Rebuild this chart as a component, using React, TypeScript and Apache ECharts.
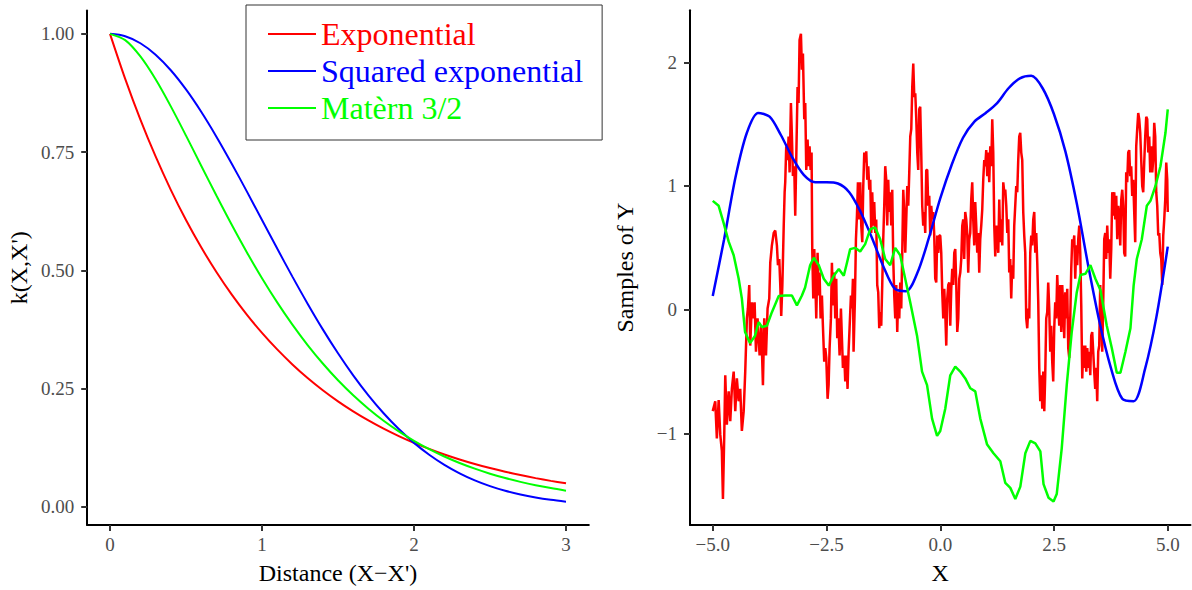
import React, { useEffect, useRef } from "react";
import * as echarts from "echarts";

// ---------- Left panel: kernel functions ----------
const distance = [0, 0.1, 0.2, 0.3, 0.4, 0.5, 0.6, 0.7, 0.8, 0.9, 1.0, 1.1, 1.2, 1.3, 1.4, 1.5, 1.6, 1.7, 1.8, 1.9, 2.0, 2.1, 2.2, 2.3, 2.4, 2.5, 2.6, 2.7, 2.8, 2.9, 3.0];
const kExponential = [1.0, 0.9048, 0.8187, 0.7408, 0.6703, 0.6065, 0.5488, 0.4966, 0.4493, 0.4066, 0.3679, 0.3329, 0.3012, 0.2725, 0.2466, 0.2231, 0.2019, 0.1827, 0.1653, 0.1496, 0.1353, 0.1225, 0.1108, 0.1003, 0.0907, 0.0821, 0.0743, 0.0672, 0.0608, 0.055, 0.0498];
const kSquaredExp = [1.0, 0.995, 0.9802, 0.956, 0.9231, 0.8825, 0.8353, 0.7827, 0.7261, 0.667, 0.6065, 0.5461, 0.4868, 0.4296, 0.3753, 0.3247, 0.278, 0.2357, 0.1979, 0.1645, 0.1353, 0.1103, 0.0889, 0.071, 0.0561, 0.0439, 0.034, 0.0261, 0.0198, 0.0149, 0.0111];
const kMatern = [1.0, 0.9867, 0.9522, 0.9039, 0.8467, 0.7849, 0.7213, 0.6582, 0.5969, 0.5384, 0.4834, 0.4323, 0.3852, 0.3421, 0.3031, 0.2677, 0.236, 0.2076, 0.1822, 0.1598, 0.1397, 0.1221, 0.1065, 0.0928, 0.0808, 0.0702, 0.061, 0.0529, 0.0458, 0.0397, 0.0343];

const seriesNames = ["Exponential", "Squared exponential", "Matèrn 3/2"];
const seriesColors = ["#FF0000", "#0000FF", "#00FF00"];

const leftXTicks = [0, 1, 2, 3];
const leftYTicks = [0, 0.25, 0.5, 0.75, 1.0];
const rightXTicks = [-5, -2.5, 0, 2.5, 5];
const rightYTicks = [-1, 0, 1, 2];

// ---------- Right panel: samples ----------
const sampleExp: [number, number][] = [
  [-5.0, -0.82], [-4.945, -0.74], [-4.91, -1.04], [-4.87, -0.73], [-4.835, -1.01], [-4.8, -1.14], [-4.776, -1.53], [-4.747, -1.01], [-4.725, -0.53], [-4.69, -0.93],
  [-4.65, -0.66], [-4.615, -0.9], [-4.58, -0.64], [-4.54, -0.5], [-4.505, -0.82], [-4.47, -0.555], [-4.43, -0.74], [-4.396, -0.64], [-4.36, -0.98], [-4.32, -0.82],
  [-4.286, -0.5], [-4.25, -0.07], [-4.227, 0.01], [-4.198, 0.2], [-4.176, -0.29], [-4.14, 0.06], [-4.1, -0.07], [-4.08, 0.06], [-4.05, -0.34], [-4.015, -0.07],
  [-3.97, -0.37], [-3.934, -0.13], [-3.897, -0.61], [-3.868, -0.07], [-3.83, -0.37], [-3.795, 0.01], [-3.758, 0.09], [-3.736, 0.38], [-3.7, 0.52], [-3.66, 0.62],
  [-3.626, 0.64], [-3.59, 0.52], [-3.567, 0.36], [-3.538, 0.41], [-3.516, 0.2], [-3.495, -0.05], [-3.47, 0.2], [-3.44, 0.68], [-3.42, 0.95], [-3.407, 1.03],
  [-3.385, 1.32], [-3.355, 1.21], [-3.333, 1.4], [-3.311, 1.11], [-3.282, 1.67], [-3.26, 1.4], [-3.238, 1.08], [-3.209, 1.16], [-3.187, 0.76], [-3.165, 1.21],
  [-3.136, 1.8], [-3.114, 1.67], [-3.092, 2.18], [-3.062, 2.23], [-3.04, 1.94], [-3.018, 2.07], [-2.989, 1.54], [-2.967, 1.67], [-2.945, 1.13], [-2.916, 1.375],
  [-2.894, 1.16], [-2.872, 1.32], [-2.85, 1.13], [-2.828, 1.27], [-2.813, 0.49], [-2.791, 0.09], [-2.769, 0.49], [-2.747, 0.25], [-2.725, -0.07], [-2.696, 0.46],
  [-2.674, 0.115], [-2.652, 0.3], [-2.63, -0.07], [-2.601, 0.115], [-2.579, -0.13], [-2.55, -0.42], [-2.527, -0.31], [-2.505, -0.39], [-2.476, -0.72], [-2.454, -0.61],
  [-2.432, -0.31], [-2.403, -0.07], [-2.381, 0.38], [-2.359, 0.035], [-2.33, 0.3], [-2.308, -0.07], [-2.286, 0.25], [-2.264, -0.23], [-2.242, -0.07], [-2.212, -0.37],
  [-2.183, 0.01], [-2.161, -0.23], [-2.139, -0.47], [-2.11, -0.37], [-2.088, -0.58], [-2.066, -0.37], [-2.037, -0.64], [-2.015, -0.34], [-1.993, -0.15], [-1.963, 0.115],
  [-1.941, 0.01], [-1.919, 0.25], [-1.905, -0.34], [-1.875, 0.09], [-1.853, 0.57], [-1.831, 0.76], [-1.809, 1.03], [-1.787, 0.73],
  [-1.758, 1.03], [-1.736, 0.68], [-1.714, 0.545], [-1.692, 1.0], [-1.67, 1.27], [-1.648, 1.19], [-1.626, 1.28], [-1.604, 1.05], [-1.582, 1.16], [-1.56, 0.97],
  [-1.538, 1.05], [-1.516, 0.62], [-1.495, 0.95], [-1.473, 0.68], [-1.451, 0.87], [-1.429, 0.62], [-1.407, 0.73], [-1.385, 0.2], [-1.363, 0.14], [-1.341, -0.15],
  [-1.319, -0.02], [-1.297, -0.13], [-1.275, 0.2], [-1.253, 0.57], [-1.231, 0.84], [-1.209, 1.16], [-1.187, 1.05], [-1.165, 0.68], [-1.143, 1.05], [-1.121, 0.79],
  [-1.099, 0.95], [-1.077, 0.68], [-1.055, 0.97], [-1.033, 0.41], [-1.011, 0.115], [-0.989, -0.07], [-0.967, 0.2], [-0.945, -0.18], [-0.923, 0.14], [-0.901, -0.07],
  [-0.879, 0.22], [-0.857, 0.01], [-0.835, 0.46], [-0.813, 0.97], [-0.791, 0.79], [-0.769, 0.46], [-0.747, 0.73], [-0.725, 1.0], [-0.703, 0.84], [-0.681, 1.11],
  [-0.659, 1.4], [-0.637, 1.46], [-0.615, 1.8], [-0.593, 1.99], [-0.571, 1.72], [-0.549, 1.75], [-0.527, 1.54], [-0.505, 1.27], [-0.484, 1.13], [-0.462, 1.62],
  [-0.44, 1.64], [-0.418, 1.27], [-0.396, 0.84], [-0.374, 0.68], [-0.352, 0.79], [-0.33, 0.62], [-0.308, 1.13], [-0.286, 1.13], [-0.264, 0.84], [-0.242, 0.92],
  [-0.22, 0.6], [-0.198, 0.84], [-0.176, 0.73], [-0.154, 0.79], [-0.132, 0.6], [-0.11, 0.25], [-0.088, 0.22], [-0.066, 0.6], [-0.044, 0.46], [-0.022, 0.6],
  [0.0, 0.6], [0.022, 0.46], [0.044, 0.14], [0.066, -0.07], [0.088, 0.17], [0.11, -0.02], [0.132, -0.29], [0.154, 0.09], [0.176, 0.2], [0.198, 0.22],
  [0.22, -0.13], [0.242, 0.17], [0.264, 0.33], [0.286, 0.2], [0.308, 0.46], [0.33, 0.49], [0.352, 0.2], [0.374, -0.18], [0.396, -0.07], [0.418, 0.25],
  [0.44, 0.3], [0.462, 0.41], [0.484, 0.68], [0.505, 0.73], [0.527, 0.41], [0.549, 0.79], [0.571, 0.73], [0.593, 0.62], [0.615, 0.3], [0.637, 0.57],
  [0.659, 0.62], [0.681, 0.89], [0.703, 1.03], [0.725, 0.73], [0.747, 0.52], [0.769, 0.87], [0.791, 0.68], [0.813, 0.46], [0.835, 0.62], [0.857, 0.3],
  [0.879, 0.57], [0.901, 0.68], [0.923, 0.81], [0.945, 1.05], [0.967, 1.21], [0.989, 1.16], [1.011, 1.29], [1.033, 1.08], [1.055, 1.27], [1.077, 1.03],
  [1.099, 1.32], [1.121, 1.16], [1.143, 1.54], [1.165, 1.27], [1.187, 0.68], [1.209, 0.43], [1.231, 0.68], [1.253, 0.6], [1.275, 0.46], [1.297, 0.89],
  [1.319, 0.545], [1.341, 0.73], [1.363, 0.52], [1.385, 1.03], [1.407, 0.95], [1.429, 0.97], [1.451, 0.84], [1.473, 0.62], [1.495, 0.73], [1.516, 0.3],
  [1.538, 0.41], [1.56, 0.09], [1.582, 0.36], [1.604, 0.25], [1.626, 0.68], [1.648, 0.84], [1.67, 1.0], [1.692, 0.95], [1.714, 1.21], [1.736, 1.4],
  [1.758, 1.43], [1.78, 1.27], [1.802, 1.21], [1.824, 0.79], [1.846, 0.6], [1.868, 0.46], [1.89, -0.07], [1.912, -0.15], [1.934, 0.01], [1.956, -0.07],
  [1.978, 0.46], [2.0, 0.6], [2.022, 0.52], [2.044, 0.73], [2.066, 0.79], [2.088, 0.46], [2.11, 0.62], [2.132, 0.38], [2.154, 0.06], [2.176, -0.47],
  [2.198, -0.74], [2.22, -0.53], [2.242, -0.8], [2.264, -0.5], [2.286, -0.82], [2.307, -0.53], [2.329, -0.07], [2.351, -0.02], [2.373, 0.22], [2.395, 0.01],
  [2.417, -0.34], [2.439, -0.13], [2.461, -0.42], [2.483, -0.58], [2.505, -0.15], [2.527, 0.06], [2.549, -0.07], [2.571, 0.28], [2.593, 0.06], [2.615, -0.13],
  [2.637, 0.2], [2.659, -0.18], [2.681, 0.2], [2.703, 0.01], [2.725, -0.23], [2.747, 0.14], [2.769, -0.07], [2.791, 0.17], [2.813, -0.31], [2.835, -0.39],
  [2.857, -0.07], [2.879, 0.33], [2.901, 0.57], [2.923, 0.52], [2.945, 0.6], [2.967, 0.25], [2.989, 0.52], [3.011, 0.36], [3.033, 0.57], [3.055, 0.68],
  [3.077, 0.46], [3.099, 0.035], [3.121, -0.555], [3.143, -0.29], [3.165, -0.47], [3.187, -0.29], [3.209, -0.5], [3.231, -0.31], [3.253, -0.47], [3.275, -0.34],
  [3.297, -0.53], [3.318, -0.21], [3.34, -0.18], [3.362, -0.34], [3.384, -0.5], [3.406, -0.64], [3.428, -0.47], [3.45, -0.74], [3.472, -0.34], [3.494, -0.29],
  [3.516, 0.2], [3.538, -0.07], [3.56, -0.34], [3.582, 0.06], [3.604, 0.57], [3.626, 0.62], [3.648, 0.41], [3.67, 0.68], [3.692, 0.46], [3.714, 0.57],
  [3.736, 0.25], [3.758, 0.49], [3.78, 0.95], [3.802, 0.76], [3.824, 0.95], [3.846, 0.73], [3.868, 0.92], [3.89, 0.57], [3.912, 0.84], [3.934, 0.76],
  [3.956, 0.52], [3.978, 0.89], [4.0, 0.97], [4.021, 0.84], [4.043, 0.46], [4.065, 0.43], [4.087, 1.11], [4.109, 1.03], [4.131, 1.27], [4.153, 1.29],
  [4.175, 1.08], [4.197, 1.16], [4.219, 0.92], [4.241, 1.05], [4.263, 0.79], [4.285, 0.545], [4.307, 1.32], [4.329, 1.46], [4.351, 1.59], [4.373, 1.54],
  [4.395, 1.43], [4.417, 1.21], [4.439, 1.0], [4.461, 0.95], [4.483, 1.19], [4.505, 1.4], [4.527, 1.56], [4.549, 1.54], [4.571, 1.27], [4.593, 1.4],
  [4.615, 1.11], [4.637, 1.32], [4.659, 1.11], [4.681, 1.21], [4.703, 1.51], [4.725, 1.4], [4.747, 0.95], [4.769, 0.84], [4.791, 0.6], [4.813, 0.62],
  [4.835, 0.46], [4.857, 0.41], [4.879, 0.2], [4.901, 0.6], [4.923, 0.73], [4.945, 0.89], [4.967, 1.19], [4.989, 1.05], [5.0, 0.79],
];

const sampleSE: [number, number][] = [
  [-5.0, 0.11], [-4.75, 0.57], [-4.5, 1.07], [-4.25, 1.43], [-4.0, 1.59], [-3.75, 1.56], [-3.5, 1.41], [-3.25, 1.23], [-3.0, 1.09], [-2.75, 1.03],
  [-2.5, 1.03], [-2.25, 1.02], [-2.0, 0.95], [-1.75, 0.79], [-1.5, 0.58], [-1.25, 0.35], [-1.0, 0.17], [-0.75, 0.15], [-0.5, 0.3], [-0.25, 0.58],
  [0.0, 0.9], [0.25, 1.17], [0.5, 1.39], [0.75, 1.52], [1.0, 1.59], [1.25, 1.67], [1.5, 1.79], [1.75, 1.87], [2.0, 1.89], [2.25, 1.79],
  [2.5, 1.58], [2.75, 1.28], [3.0, 0.86], [3.25, 0.36], [3.5, -0.1], [3.75, -0.47], [4.0, -0.72], [4.25, -0.74], [4.5, -0.48], [4.75, -0.06], [5.0, 0.51],
];

const sampleMatern: [number, number][] = [
  [-5.0, 0.88], [-4.87, 0.84], [-4.76, 0.7], [-4.65, 0.55], [-4.54, 0.44], [-4.43, 0.25], [-4.36, 0.09], [-4.29, -0.18], [-4.18, -0.27], [-4.07, -0.21],
  [-3.99, -0.1], [-3.92, -0.14], [-3.81, -0.13], [-3.7, -0.02], [-3.55, 0.11], [-3.41, 0.115], [-3.26, 0.115], [-3.15, 0.035], [-3.04, 0.115], [-2.97, 0.18],
  [-2.86, 0.36], [-2.78, 0.42], [-2.67, 0.36], [-2.56, 0.25], [-2.45, 0.195], [-2.34, 0.275], [-2.23, 0.33], [-2.12, 0.275], [-2.05, 0.38], [-1.98, 0.49],
  [-1.87, 0.5], [-1.76, 0.47], [-1.65, 0.53], [-1.54, 0.65], [-1.43, 0.665], [-1.32, 0.57], [-1.21, 0.41], [-1.1, 0.36], [-0.99, 0.5], [-0.88, 0.44],
  [-0.77, 0.25], [-0.66, 0.06], [-0.51, -0.21], [-0.4, -0.5], [-0.29, -0.61], [-0.18, -0.88], [-0.07, -1.02], [0.0, -0.98], [0.11, -0.8], [0.22, -0.53],
  [0.33, -0.46], [0.44, -0.5], [0.55, -0.555], [0.66, -0.635], [0.77, -0.66], [0.88, -0.88], [1.03, -1.09], [1.17, -1.16], [1.32, -1.225], [1.43, -1.4],
  [1.54, -1.44], [1.65, -1.53], [1.76, -1.43], [1.87, -1.16], [1.98, -1.06], [2.09, -1.08], [2.2, -1.145], [2.27, -1.41], [2.38, -1.52], [2.49, -1.55],
  [2.56, -1.49], [2.67, -1.12], [2.78, -0.61], [2.89, -0.18], [3.0, 0.14], [3.08, 0.28], [3.19, 0.29], [3.3, 0.36], [3.41, 0.25], [3.52, 0.16],
  [3.66, -0.13], [3.77, -0.31], [3.88, -0.51], [3.96, -0.51], [4.07, -0.34], [4.18, -0.15], [4.25, 0.195], [4.32, 0.41], [4.43, 0.57], [4.54, 0.84],
  [4.62, 0.88], [4.73, 1.0], [4.84, 1.16], [4.95, 1.43], [5.0, 1.62],
];

const FONT = "Liberation Serif";
const TICK_COLOR = "#333333";
const LABEL_COLOR = "#4D4D4D";

function minusify(s: string) {
  return s.replace("-", "\u2212");
}

function axisCommon(ticks: number[], fmt: (v: number) => string, isX: boolean) {
  return {
    type: "value" as const,
    splitLine: { show: false },
    axisLine: { show: true, onZero: false, lineStyle: { color: "#000", width: 2 } },
    axisTick: { show: true, customValues: ticks, length: 6, lineStyle: { color: TICK_COLOR, width: 2 } },
    axisLabel: {
      show: true,
      customValues: ticks,
      formatter: (v: number) => fmt(v),
      color: LABEL_COLOR,
      fontFamily: FONT,
      fontSize: 19,
      margin: isX ? 10 : 13,
      showMinLabel: true,
      showMaxLabel: true,
    },
    nameLocation: "middle" as const,
    nameTextStyle: { color: "#000", fontFamily: FONT, fontSize: 24 },
  };
}

export default function App() {
  const ref = useRef<HTMLDivElement>(null);

  useEffect(() => {
    if (!ref.current) return;
    const chart = echarts.init(ref.current, null, { renderer: "svg" });
    const leftData = (vals: number[]) => distance.map((d, i) => [d, vals[i]]);
    const kernels = [kExponential, kSquaredExp, kMatern];
    const samples = [sampleExp, sampleSE, sampleMatern];

    const option: any = {
      animation: false,
      backgroundColor: "#FFFFFF",
      textStyle: { fontFamily: FONT },
      grid: [
        { left: 87.2, top: 10.5, width: 501.6, height: 516.7 },
        { left: 690, top: 10.3, width: 500.5, height: 516.9 },
      ],
      xAxis: [
        {
          ...axisCommon(leftXTicks, (v) => String(v), true),
          gridIndex: 0,
          min: -0.15,
          max: 3.15,
          name: "Distance (X\u2212X')",
          nameGap: 36,
        },
        {
          ...axisCommon(rightXTicks, (v) => minusify(v.toFixed(1)), true),
          gridIndex: 1,
          min: -5.5,
          max: 5.5,
          name: "X",
          nameGap: 36,
        },
      ],
      yAxis: [
        {
          ...axisCommon(leftYTicks, (v) => v.toFixed(2), false),
          gridIndex: 0,
          min: -0.0383,
          max: 1.0494,
          name: "k(X,X')",
          nameGap: 56,
        },
        {
          ...axisCommon(rightYTicks, (v) => minusify(String(v)), false),
          gridIndex: 1,
          min: -1.74,
          max: 2.42,
          name: "Samples of Y",
          nameGap: 53,
        },
      ],
      legend: {
        orient: "vertical",
        left: 246,
        top: 5,
        padding: [13, 19, 16, 22],
        itemGap: 5,
        itemWidth: 48,
        itemHeight: 2,
        icon: "rect",
        borderColor: "#333333",
        borderWidth: 1,
        backgroundColor: "#FFFFFF",
        textStyle: { fontFamily: FONT, fontSize: 32, lineHeight: 32 },
        data: seriesNames.map((n, i) => ({ name: n, textStyle: { color: seriesColors[i] } })),
      },
      series: [
        ...kernels.map((vals, i) => ({
          type: "line",
          name: seriesNames[i],
          xAxisIndex: 0,
          yAxisIndex: 0,
          data: leftData(vals),
          showSymbol: false,
          symbol: "none",
          smooth: 0.3,
          color: seriesColors[i],
          lineStyle: { color: seriesColors[i], width: 2 },
        })),
        ...samples.map((vals, i) => ({
          type: "line",
          name: seriesNames[i],
          xAxisIndex: 1,
          yAxisIndex: 1,
          data: vals,
          showSymbol: false,
          symbol: "none",
          smooth: i === 1 ? 0.3 : false,
          color: seriesColors[i],
          lineStyle: { color: seriesColors[i], width: 2.5 },
        })),
      ],
    };
    chart.setOption(option);
    return () => {
      chart.dispose();
    };
  }, []);

  return (
    <div
      ref={ref}
      style={{ position: "fixed", left: 0, top: 0, width: 1192, height: 590, background: "#fff" }}
    />
  );
}
